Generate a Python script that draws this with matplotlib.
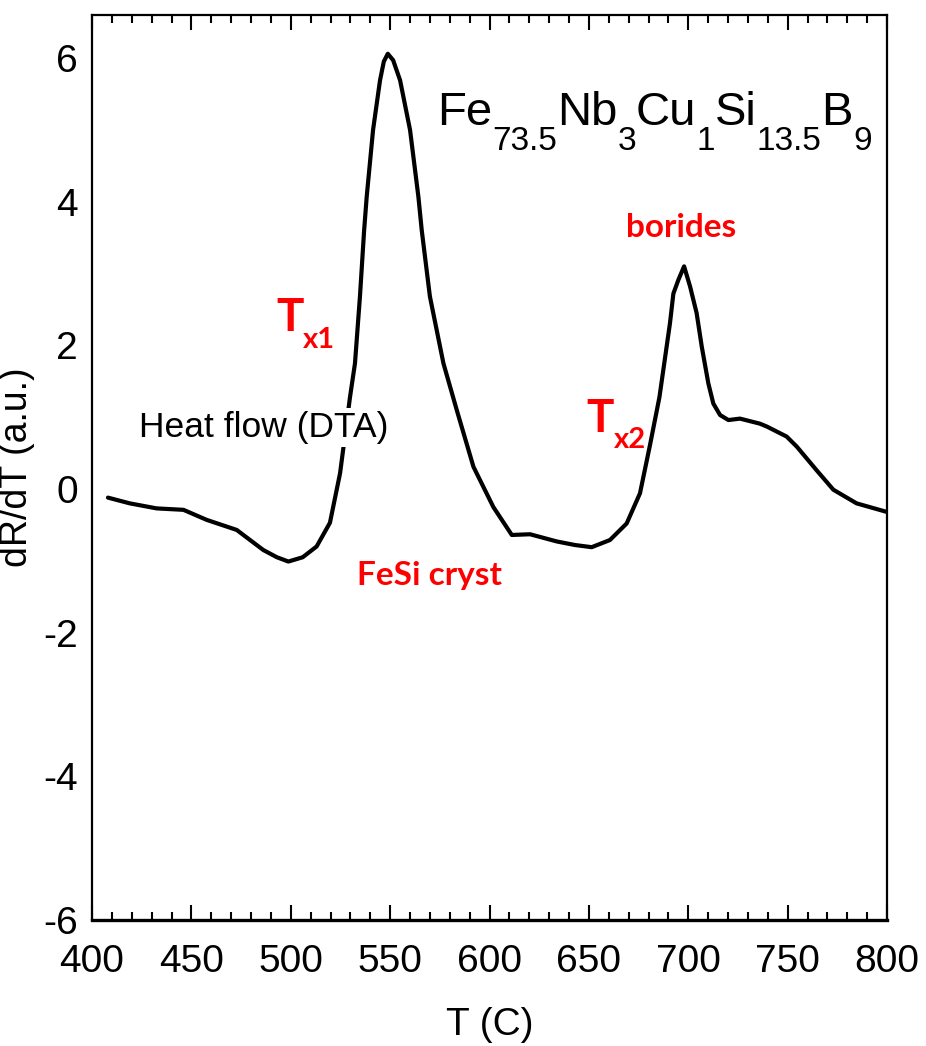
"""DTA-style dR/dT curve for Fe73.5Nb3Cu1Si13.5B9."""

import matplotlib
matplotlib.use("Agg")
import matplotlib.pyplot as plt
from matplotlib.ticker import MultipleLocator

plt.rcParams['font.family'] = ['Liberation Sans', 'DejaVu Sans']
plt.rcParams['axes.unicode_minus'] = False

# curve
temp = [408, 419, 432.5, 446, 457.7, 472.8, 486.2, 493, 498.8, 506,
        513, 519.7, 524.8, 529.8, 532.3, 534.8, 536.9, 538.2, 541.4, 544.9,
        546.8, 548.8, 551.5, 555, 560, 564.2, 565.9, 570, 576.8, 583.5,
        591.9, 601.9, 611.2, 620.4, 633.8, 643, 651.4, 660.6, 669, 675.7,
        680.8, 685.5, 690.8, 692.5, 695, 697.9, 700.9, 704.2, 706.8, 710.1,
        712.6, 716, 720.2, 726, 736, 739.5, 749.5, 754.6, 764.6, 773,
        784.7, 800]
drdt = [-0.12, -0.2, -0.27, -0.29, -0.43, -0.57, -0.85, -0.95, -1.01, -0.95,
        -0.8, -0.47, 0.22, 1.28, 1.75, 2.68, 3.6, 4.07, 5.0, 5.69,
        5.95, 6.06, 5.97, 5.69, 5.0, 4.07, 3.6, 2.68, 1.75, 1.1,
        0.31, -0.25, -0.64, -0.63, -0.73, -0.78, -0.81, -0.71, -0.48, -0.06,
        0.62, 1.28, 2.31, 2.72, 2.91, 3.1, 2.82, 2.45, 1.98, 1.47,
        1.19, 1.03, 0.96, 0.98, 0.91, 0.87, 0.73, 0.59, 0.26, -0.01,
        -0.2, -0.32]

x_ticks = [400, 450, 500, 550, 600, 650, 700, 750, 800]
y_ticks = [-6, -4, -2, 0, 2, 4, 6]

formula = [("Fe", False), ("73.5", True), ("Nb", False), ("3", True),
           ("Cu", False), ("1", True), ("Si", False), ("13.5", True),
           ("B", False), ("9", True)]


def chain_text(ax, x, y, parts, size, sub_size, sub_drop, **kw):
    """Write text pieces one after the other, dropping the subscripts."""
    renderer = ax.figure.canvas.get_renderer()
    dx = 0.0
    for s, is_sub in parts:
        t = ax.annotate(s, xy=(x, y), xytext=(dx, -sub_drop if is_sub else 0),
                        textcoords='offset points', ha='left', va='baseline',
                        fontsize=sub_size if is_sub else size, **kw)
        bb = t.get_window_extent(renderer)
        dx += bb.width * 72.0 / ax.figure.dpi


fig = plt.figure(figsize=(9.26, 10.46), dpi=100)
ax = fig.add_axes([0.0994, 0.1205, 0.8585, 0.8652])

ax.plot(temp, drdt, color='black', lw=3.0, zorder=2,
        solid_joinstyle='round', solid_capstyle='round')

ax.set_xlim(400, 800)
ax.set_ylim(-6, 6.6)
ax.set_xticks(x_ticks)
ax.set_yticks(y_ticks)
ax.xaxis.set_minor_locator(MultipleLocator(10))
ax.tick_params(axis='x', which='major', direction='in', length=11, width=1.5,
               top=True, labelsize=28, pad=17)
ax.tick_params(axis='x', which='minor', direction='in', length=6, width=1.5,
               top=True)
ax.tick_params(axis='y', length=0, labelsize=28, pad=10)
for side, lw in (('bottom', 2.4), ('left', 1.6), ('top', 1.6), ('right', 1.6)):
    ax.spines[side].set_linewidth(lw)

ax.set_xlabel("T (C)", fontsize=28, labelpad=20)
ax.set_ylabel("dR/dT (a.u.)", fontsize=27, labelpad=6)

ax.text(423.6, 0.72, "Heat flow (DTA)", fontsize=25.5, color='black',
        ha='left', va='baseline', zorder=3,
        bbox=dict(facecolor='white', edgecolor='none', pad=2))

chain_text(ax, 573.6, 5.07, formula, 34, 24, 18, color='black')

red = dict(color='red', family=['Lato', 'DejaVu Sans'], weight='bold')
chain_text(ax, 492.5, 2.2, [("T", False), ("x1", True)], 33, 21, 12, **red)
chain_text(ax, 648.6, 0.79, [("T", False), ("x2", True)], 33, 21, 11, **red)
ax.text(533.3, -1.34, "FeSi cryst", fontsize=24, ha='left', va='baseline', **red)
ax.text(668.7, 3.51, "borides", fontsize=24, ha='left', va='baseline', **red)

fig.savefig("out.png", dpi=100)
plt.close(fig)
